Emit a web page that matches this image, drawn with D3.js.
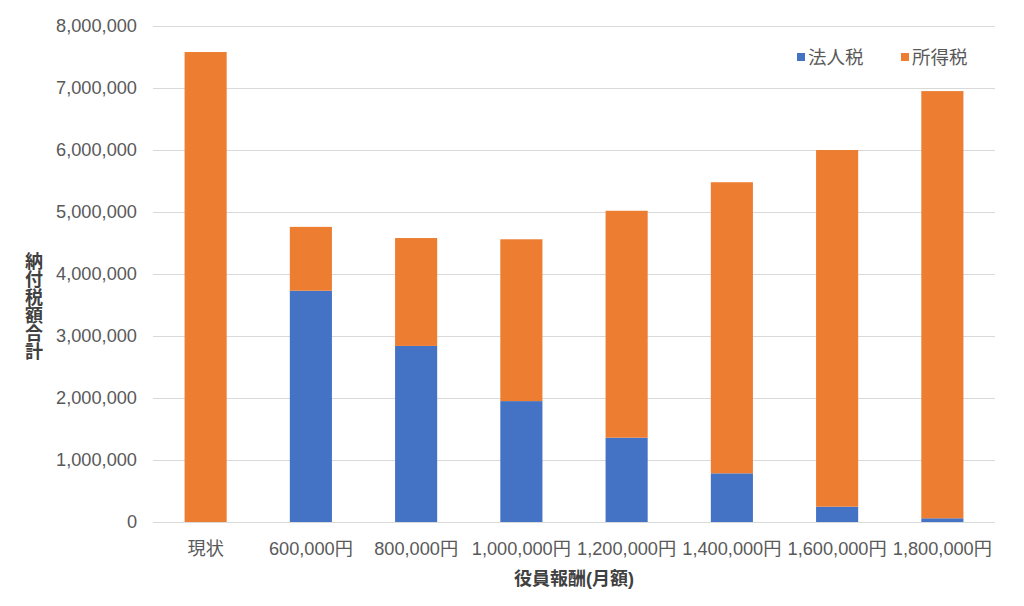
<!DOCTYPE html>
<html>
<head>
<meta charset="utf-8">
<script src="https://cdn.jsdelivr.net/npm/d3@7"></script>
<style>
  body { margin: 0; background: #fff; }
  svg text { font-family: "Liberation Sans", "Noto Sans CJK JP", sans-serif; }
</style>
</head>
<body>
<svg id="chart" width="1024" height="606"></svg>
<script>
// data
var categories = ["現状", "600,000円", "800,000円", "1,000,000円", "1,200,000円", "1,400,000円", "1,600,000円", "1,800,000円"];
var corporateTax = [0, 3730000, 2840000, 1950000, 1360000, 785000, 247000, 60000];   // 法人税
var incomeTax = [7580000, 1030000, 1740000, 2610000, 3660000, 4695000, 5753000, 6890000]; // 所得税
var seriesNames = ["法人税", "所得税"];
var seriesColors = ["#4472c4", "#ed7d31"];
var yTicks = [0, 1000000, 2000000, 3000000, 4000000, 5000000, 6000000, 7000000, 8000000];

var svg = d3.select("#chart"),
    margin = {top: 26, right: 29, bottom: 84, left: 153},
    width = +svg.attr("width") - margin.left - margin.right,
    height = +svg.attr("height") - margin.top - margin.bottom,
    g = svg.append("g").attr("transform", "translate(" + margin.left + "," + margin.top + ")");

var data = categories.map(function(c, i) {
  return {cat: c, corp: corporateTax[i], income: incomeTax[i]};
});

var x = d3.scaleBand()
    .domain(categories)
    .range([0, width])
    .paddingInner(0.6)
    .paddingOuter(0.3);

var y = d3.scaleLinear()
    .domain([0, 8000000])
    .range([height, 0]);

// gridlines
g.append("g")
    .selectAll("line")
    .data(yTicks)
  .enter().append("line")
    .attr("x1", 0)
    .attr("x2", width)
    .attr("y1", function(d) { return Math.round(y(d)) + 0.5; })
    .attr("y2", function(d) { return Math.round(y(d)) + 0.5; })
    .attr("stroke", "#d9d9d9")
    .attr("stroke-width", 1);

// y axis
var yAxis = g.append("g")
    .call(d3.axisLeft(y).tickValues(yTicks).tickFormat(d3.format(",")).tickSize(0).tickPadding(16));
yAxis.select(".domain").remove();
yAxis.selectAll("text")
    .attr("fill", "#595959")
    .style("font-size", "18.2px");

// x axis
var xAxis = g.append("g")
    .attr("transform", "translate(0," + height + ")")
    .call(d3.axisBottom(x).tickSize(0).tickPadding(20));
xAxis.select(".domain").remove();
xAxis.selectAll("text")
    .attr("fill", "#595959")
    .style("font-size", "18.2px");

// stacked bars
var stack = d3.stack().keys(["corp", "income"]);
var layers = stack(data);

g.append("g")
    .selectAll("g")
    .data(layers)
  .enter().append("g")
    .attr("fill", function(d, i) { return seriesColors[i]; })
  .selectAll("rect")
    .data(function(d) { return d; })
  .enter().append("rect")
    .attr("x", function(d) { return x(d.data.cat); })
    .attr("width", x.bandwidth())
    .attr("y", function(d) { return y(d[1]); })
    .attr("height", function(d) { return y(d[0]) - y(d[1]); });

// axis titles
svg.append("text")
    .attr("x", margin.left + width / 2)
    .attr("y", 585)
    .attr("text-anchor", "middle")
    .attr("fill", "#404040")
    .style("font-size", "18px")
    .style("font-weight", "bold")
    .text("役員報酬(月額)");

svg.append("text")
    .attr("x", 32)
    .attr("y", 252)
    .attr("fill", "#404040")
    .style("font-size", "18px")
    .style("font-weight", "bold")
    .style("writing-mode", "vertical-rl")
    .style("text-orientation", "upright")
    .text("納付税額合計");

// legend
var legend = svg.append("g")
    .selectAll("g")
    .data(seriesNames)
  .enter().append("g")
    .attr("transform", function(d, i) { return "translate(" + (797 + i * 104) + ",50)"; });

legend.append("rect")
    .attr("width", 8)
    .attr("height", 8)
    .attr("y", 3)
    .attr("fill", function(d, i) { return seriesColors[i]; });

legend.append("text")
    .attr("x", 11)
    .attr("y", 14)
    .attr("fill", "#595959")
    .style("font-size", "18.5px")
    .text(function(d) { return d; });
</script>
</body>
</html>
